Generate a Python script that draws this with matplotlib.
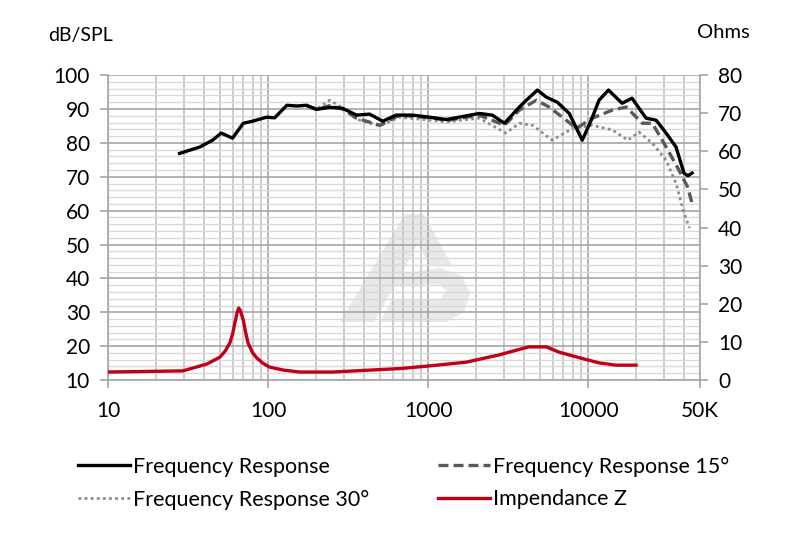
import matplotlib
matplotlib.use("Agg")
import matplotlib.pyplot as plt
from matplotlib.patches import Polygon
from matplotlib.ticker import FixedLocator, LogLocator, NullFormatter
import numpy as np

plt.rcParams["font.family"] = ["Lato", "DejaVu Sans"]

# Frequency Response (0 deg), dB SPL
fr_freq = [28, 37.5, 45, 51, 60, 70, 80, 98, 110, 131, 151, 174, 201, 243, 293, 357, 431, 521,
           631, 663, 800, 1020, 1300, 2090, 2520, 3000, 3720, 4110, 4820, 5480, 6420, 7620,
           9190, 10450, 11700, 13400, 16300, 18800, 23000, 26600, 30700, 35400, 39700, 42000, 44600]
fr_db = [76.9, 78.8, 80.8, 82.9, 81.4, 85.8, 86.4, 87.6, 87.4, 91.1, 90.9, 91.1, 89.9, 90.5, 90.2,
         88.2, 88.5, 86.4, 88.2, 88.2, 88.2, 87.6, 86.9, 88.7, 88.2, 85.8, 90.6, 92.6, 95.6, 93.5,
         92.0, 88.7, 80.8, 86.7, 92.6, 95.6, 91.7, 93.2, 87.3, 86.7, 82.9, 78.8, 71.1, 70.3, 71.1]

# Frequency Response 15 deg
fr15_freq = [174, 201, 243, 293, 357, 500, 663, 1090, 1300, 2090, 3000, 3720, 4750, 5700,
             7300, 8450, 10600, 14200, 17300, 21800, 25200, 30700, 37000, 41800, 44600]
fr15_db = [91.0, 89.8, 91.0, 90.0, 87.3, 85.2, 88.2, 87.3, 86.6, 88.2, 85.2, 89.7, 92.6, 90.6,
           86.7, 84.3, 87.3, 89.7, 90.6, 85.8, 85.8, 78.8, 71.9, 67.0, 62.2]

# Frequency Response 30 deg
fr30_freq = [174, 201, 243, 293, 357, 500, 663, 1300, 2090, 3060, 3720, 4510, 5960, 8000,
             10600, 14200, 17700, 20800, 25200, 30700, 35400, 39700, 43000]
fr30_db = [91.0, 90.0, 92.6, 90.3, 87.0, 85.0, 87.6, 86.2, 87.3, 82.9, 85.8, 85.2, 80.8, 84.3,
           85.2, 83.8, 80.8, 83.2, 79.9, 74.9, 68.1, 59.3, 54.9]

# Impedance Z, Ohms
z_freq = [10, 29.4, 41.5, 50, 54, 57.7, 60, 62, 64, 65.5, 67, 70, 72.5, 75, 80, 85, 93, 102,
          125, 158, 254, 660, 1020, 1740, 2780, 4250, 5480, 6600, 8900, 11700, 14900, 19900]
z_ohm = [2.1, 2.4, 4.2, 6.0, 7.6, 9.7, 12.0, 14.9, 17.6, 18.9, 18.3, 15.7, 12.4, 9.7, 7.2, 5.8,
         4.4, 3.4, 2.6, 2.1, 2.1, 3.0, 3.7, 4.7, 6.6, 8.7, 8.7, 7.3, 5.8, 4.5, 3.9, 3.9]

x_ticks = [10, 100, 1000, 10000, 50000]
x_labels = ["10", "100", "1000", "10000", "50K"]

fig = plt.figure(figsize=(8, 5.33), dpi=100)
ax = fig.add_axes([0.135, 0.287, 0.740, 0.572])
ax2 = ax.twinx()

# faint logo watermark behind the grid
def px(points):
    return [(x / 800, 1 - y / 533) for x, y in points]

wm = "#e9e9e9"
for shape in (
    [(340, 322), (374, 322), (419, 242), (405, 214)],
    [(405, 214), (424, 214), (452, 266), (430, 266), (414, 237)],
    [(392, 275), (440, 268), (462, 276), (470, 293), (464, 312), (446, 322), (380, 322),
     (392, 300), (440, 300), (446, 290), (438, 284), (386, 286)],
):
    ax.add_patch(Polygon(px(shape), closed=True, transform=fig.transFigure,
                         facecolor=wm, edgecolor="none", zorder=0.1))

ax.set_xscale("log")
ax.set_xlim(10, 50000)
ax.set_ylim(10, 100)
ax2.set_ylim(0, 80)

ax.set_axisbelow(True)
ax.xaxis.set_major_locator(FixedLocator(x_ticks))
ax.set_xticklabels(x_labels)
ax.xaxis.set_minor_locator(LogLocator(base=10, subs=np.arange(2, 10)))
ax.xaxis.set_minor_formatter(NullFormatter())
ax.set_yticks(np.arange(10, 101, 10))
ax.set_yticks(np.arange(10, 101, 2), minor=True)
ax2.set_yticks(np.arange(0, 81, 10))

ax.grid(True, which="major", axis="both", color="#a6a6a6", linewidth=1.2)
ax.grid(True, which="minor", axis="x", color="#bfbfbf", linewidth=1.1)
ax.grid(True, which="minor", axis="y", color="#d9d9d9", linewidth=1.0)

for a in (ax, ax2):
    for side in ("top", "left", "right", "bottom"):
        a.spines[side].set_color("#a6a6a6")
        a.spines[side].set_linewidth(1.2)
    a.spines["top"].set_visible(False)
ax.spines["right"].set_visible(False)
ax2.spines["left"].set_visible(False)
ax2.spines["bottom"].set_visible(False)

ax.tick_params(axis="both", which="major", length=6, width=1.2, color="#a6a6a6",
               labelsize=15, labelcolor="#000000")
ax.tick_params(axis="x", which="major", pad=9)
ax.tick_params(axis="x", which="minor", length=0)
ax.tick_params(axis="y", which="minor", length=0)
ax.tick_params(axis="y", which="major", pad=7)
ax2.tick_params(axis="y", length=6, width=1.2, color="#a6a6a6", labelsize=15, pad=7)

h_fr, = ax.plot(fr_freq, fr_db, color="#000000", linewidth=2.4, zorder=5,
                label="Frequency Response")
h_15, = ax.plot(fr15_freq, fr15_db, color="#595959", linewidth=2.4, linestyle=(0, (3, 1.5)),
                zorder=4, label="Frequency Response 15°")
h_30, = ax.plot(fr30_freq, fr30_db, color="#8c8c8c", linewidth=2.0, linestyle=(0, (1, 1.2)),
                zorder=3, label="Frequency Response 30°")
h_z, = ax2.plot(z_freq, z_ohm, color="#c00018", linewidth=2.4, zorder=5, label="Impendance Z")

fig.text(48 / 800, 1 - 35 / 533, "dB/SPL", fontsize=14, va="center", ha="left")
fig.text(697 / 800, 1 - 32 / 533, "Ohms", fontsize=14.5, va="center", ha="left")

fig.legend(handles=[h_fr, h_30, h_15, h_z], ncol=2, loc="upper left",
           bbox_to_anchor=(59 / 800, 1 - 437 / 533), frameon=False, fontsize=15.5,
           handlelength=2.4, handletextpad=0.15, columnspacing=3.2, labelspacing=0.6)

fig.savefig("out.png", dpi=100)
